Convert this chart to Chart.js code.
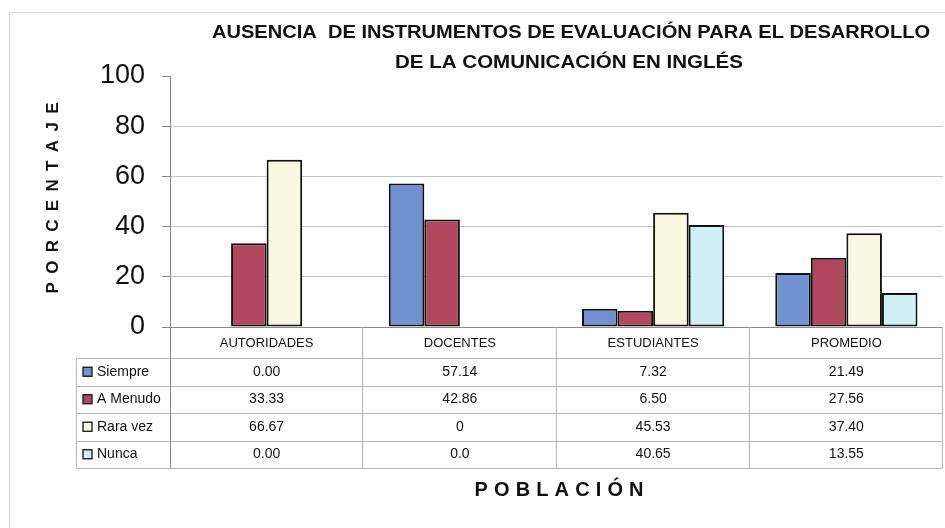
<!DOCTYPE html>
<html>
<head>
<meta charset="utf-8">
<script src="https://cdn.jsdelivr.net/npm/chart.js@4/dist/chart.umd.min.js"></script>
<style>
  html, body { margin: 0; padding: 0; background: #ffffff; }
  #wrap { width: 945px; height: 528px; position: relative; }
  canvas { display: block; }
</style>
</head>
<body>
<div id="wrap"><canvas id="c" width="945" height="528"></canvas></div>
<script>
// ---- Data ----
const categories = ['AUTORIDADES', 'DOCENTES', 'ESTUDIANTES', 'PROMEDIO'];
const seriesNames = ['Siempre', 'A Menudo', 'Rara vez', 'Nunca'];
const siempre = ['0.00', '57.14', '7.32', '21.49'];
const aMenudo = ['33.33', '42.86', '6.50', '27.56'];
const raraVez = ['66.67', '0', '45.53', '37.40'];
const nunca = ['0.00', '0.0', '40.65', '13.55'];
const yTicks = [0, 20, 40, 60, 80, 100];
const titleLines = ['AUSENCIA  DE INSTRUMENTOS DE EVALUACIÓN PARA EL DESARROLLO', 'DE LA COMUNICACIÓN EN INGLÉS'];
const yTitle = 'PORCENTAJE';
const xTitle = 'POBLACIÓN';

// ---- Styles ----
const seriesColors = ['#7092d0', '#b24860', '#f8f8e0', '#d0f0f5'];
const seriesText = [siempre, aMenudo, raraVez, nunca];
const FONT = '"Liberation Sans", Arial, sans-serif';

function spacedText(ctx, text, cx, cy, span) {
  const chars = Array.from(text);
  const widths = chars.map(ch => ctx.measureText(ch).width);
  const sum = widths.reduce((a, b) => a + b, 0);
  const gap = (span - sum) / (chars.length - 1);
  let x = cx - span / 2;
  ctx.textAlign = 'left';
  ctx.textBaseline = 'middle';
  chars.forEach((ch, i) => { ctx.fillText(ch, x, cy); x += widths[i] + gap; });
}

const decorPlugin = {
  id: 'decor',
  afterDraw(chart) {
    const ctx = chart.ctx;
    const area = chart.chartArea;
    const L = area.left, R = area.right, B = area.bottom;
    const colW = (R - L) / categories.length;
    const headerH = 31, rowH = 27.5;
    const tableLeft = 76;
    const tableBottom = B + headerH + rowH * seriesNames.length;

    ctx.save();
    // outer frame
    ctx.strokeStyle = '#d9d9d9';
    ctx.lineWidth = 1;
    ctx.beginPath();
    ctx.moveTo(9.5, 528); ctx.lineTo(9.5, 12.5); ctx.lineTo(945, 12.5);
    ctx.stroke();

    // title
    ctx.fillStyle = '#111';
    ctx.font = 'bold 19px ' + FONT;
    ctx.textBaseline = 'middle';
    ctx.textAlign = 'center';
    const tw = [718, 348];
    const tc = [571, 569];
    const ty = [33, 63];
    titleLines.forEach((line, i) => {
      const w = ctx.measureText(line).width;
      ctx.save();
      ctx.translate(tc[i], ty[i]);
      ctx.scale(tw[i] / w, 1);
      ctx.fillText(line, 0, 0);
      ctx.restore();
    });

    // y axis title (rotated, letter-spaced)
    ctx.save();
    ctx.translate(53, 198);
    ctx.rotate(-Math.PI / 2);
    ctx.font = 'bold 17px ' + FONT;
    ctx.fillStyle = '#111';
    spacedText(ctx, yTitle, 0, 0, 191);
    ctx.restore();

    // x axis title
    ctx.font = 'bold 20px ' + FONT;
    ctx.fillStyle = '#111';
    spacedText(ctx, xTitle, 559, 490, 169);

    // table grid
    ctx.strokeStyle = '#b4b4b4';
    ctx.lineWidth = 1;
    ctx.beginPath();
    for (let r = 0; r <= seriesNames.length; r++) {
      const y = Math.round(B + headerH + r * rowH) + 0.5;
      ctx.moveTo(tableLeft, y); ctx.lineTo(R, y);
    }
    ctx.moveTo(tableLeft + 0.5, B + headerH); ctx.lineTo(tableLeft + 0.5, tableBottom);
    for (let c = 1; c <= categories.length; c++) {
      const x = Math.round(L + c * colW) - 0.5;
      ctx.moveTo(x, B); ctx.lineTo(x, tableBottom);
    }
    ctx.stroke();
    // continuation of the y axis line through the table
    ctx.strokeStyle = '#8a8a8a';
    ctx.beginPath();
    ctx.moveTo(Math.round(L) + 0.5, B); ctx.lineTo(Math.round(L) + 0.5, tableBottom);
    ctx.stroke();

    // header labels
    ctx.fillStyle = '#111';
    ctx.font = '13px ' + FONT;
    ctx.textAlign = 'center';
    ctx.textBaseline = 'middle';
    categories.forEach((cat, i) => {
      ctx.fillText(cat, L + (i + 0.5) * colW, B + 16);
    });

    // rows
    seriesNames.forEach((name, r) => {
      const cy = B + headerH + (r + 0.5) * rowH;
      // legend key
      ctx.fillStyle = seriesColors[r];
      ctx.fillRect(83, cy - 4.5, 9, 9);
      ctx.strokeStyle = '#222';
      ctx.lineWidth = 1.4;
      ctx.strokeRect(83, cy - 4.5, 9, 9);
      ctx.fillStyle = '#111';
      ctx.font = '14px ' + FONT;
      ctx.textAlign = 'left';
      ctx.fillText(name, 97, cy);
      ctx.textAlign = 'center';
      seriesText[r].forEach((v, i) => {
        ctx.fillText(v, L + (i + 0.5) * colW, cy);
      });
    });
    ctx.restore();
  }
};

new Chart(document.getElementById('c'), {
  type: 'bar',
  data: {
    labels: categories,
    datasets: seriesNames.map((name, i) => ({
      label: name,
      data: seriesText[i].map(Number),
      backgroundColor: seriesColors[i],
      borderColor: '#111',
      borderWidth: 2,
      borderSkipped: false
    }))
  },
  options: {
    responsive: false,
    devicePixelRatio: 1,
    animation: false,
    events: [],
    categoryPercentage: 0.736,
    barPercentage: 1,
    layout: { padding: { top: 76, right: 2, left: 0, bottom: 0 } },
    plugins: {
      legend: { display: false },
      tooltip: { enabled: false },
      title: { display: false }
    },
    scales: {
      x: {
        ticks: { display: false },
        grid: { display: false },
        border: { display: false },
        afterFit(scale) { scale.height = 201; }
      },
      y: {
        min: 0,
        max: 100,
        afterBuildTicks(scale) { scale.ticks = yTicks.map(v => ({ value: v })); },
        ticks: {
          font: { family: FONT, size: 27 },
          color: '#111',
          padding: 17
        },
        grid: {
          color: ctx => ctx.tick && ctx.tick.value === 100 ? 'rgba(0,0,0,0)' : (ctx.tick && ctx.tick.value === 0 ? '#8a8a8a' : '#c4c4c4'),
          tickColor: '#8a8a8a',
          tickLength: 8,
          drawTicks: true,
          lineWidth: 1
        },
        border: { display: true, color: '#8a8a8a', width: 1 },
        afterFit(scale) { scale.width = 170; }
      }
    }
  },
  plugins: [decorPlugin]
});
</script>
</body>
</html>
